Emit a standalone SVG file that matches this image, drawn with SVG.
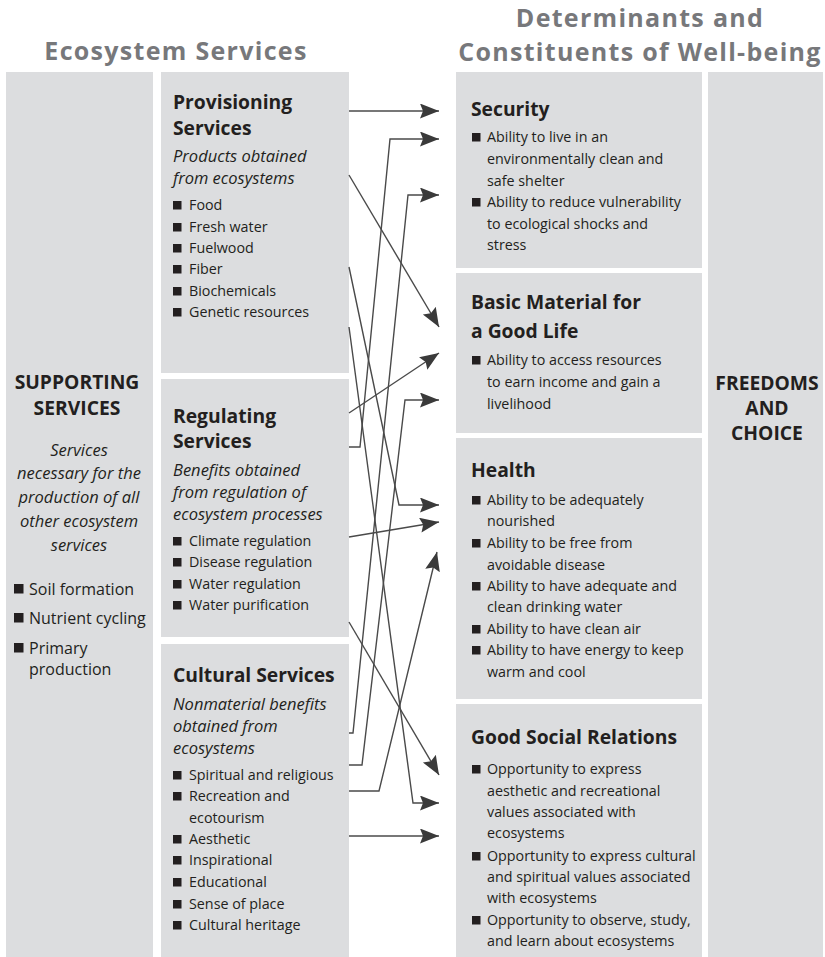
<svg xmlns="http://www.w3.org/2000/svg" width="825" height="957" viewBox="0 0 825 957">
<style>
.bg{fill:#ffffff}
.box{fill:#dcdddf}
text{font-family:"Open Sans","Noto Sans","Liberation Sans",sans-serif;fill:#231f20}
.hd{font-size:25px;font-weight:bold;fill:#77787b;letter-spacing:1.3px}
.t{font-size:19.3px;font-weight:bold}
.i{font-size:16.5px;font-style:italic}
.b{font-size:14.3px}
.s{font-size:16px}
.sq{fill:#231f20}
.c{stroke:#4a4a4a;stroke-width:1.4;fill:none}
.mid{text-anchor:middle}
</style>
<defs>
<marker id="ah" markerUnits="userSpaceOnUse" markerWidth="20" markerHeight="16" refX="19" refY="7.5" orient="auto">
<path d="M0,0 L19,7.5 L0,15 L3,7.5 z" fill="#3a3a3a"/>
</marker>
</defs>
<rect class="bg" x="0" y="0" width="825" height="957"/>
<text class="hd mid" x="176" y="60">Ecosystem Services</text>
<text class="hd mid" x="640" y="27">Determinants and</text>
<text class="hd mid" x="640" y="61">Constituents of Well-being</text>

<g id="supporting">
<rect class="box" x="6" y="72" width="147" height="885"/>
<text class="t mid" x="77" y="389">SUPPORTING</text>
<text class="t mid" x="77" y="415">SERVICES</text>
<text class="i mid" x="79" y="456">Services</text>
<text class="i mid" x="79" y="479">necessary for the</text>
<text class="i mid" x="79" y="503">production of all</text>
<text class="i mid" x="79" y="527">other ecosystem</text>
<text class="i mid" x="79" y="551">services</text>
<rect class="sq" x="14" y="584" width="9.5" height="9.5"/><text class="s" x="29" y="595">Soil formation</text>
<rect class="sq" x="14" y="613" width="9.5" height="9.5"/><text class="s" x="29" y="624">Nutrient cycling</text>
<rect class="sq" x="14" y="643" width="9.5" height="9.5"/><text class="s" x="29" y="654">Primary</text>
<text class="s" x="29" y="675">production</text>
</g>

<g id="provisioning">
<rect class="box" x="161" y="72" width="188" height="301"/>
<text class="t" x="173" y="109">Provisioning</text>
<text class="t" x="173" y="135">Services</text>
<text class="i" x="173" y="162">Products obtained</text>
<text class="i" x="173" y="184">from ecosystems</text>
<rect class="sq" x="173" y="201" width="8.5" height="8.5"/><text class="b" x="189" y="210">Food</text>
<rect class="sq" x="173" y="223" width="8.5" height="8.5"/><text class="b" x="189" y="232">Fresh water</text>
<rect class="sq" x="173" y="244" width="8.5" height="8.5"/><text class="b" x="189" y="253">Fuelwood</text>
<rect class="sq" x="173" y="265" width="8.5" height="8.5"/><text class="b" x="189" y="274">Fiber</text>
<rect class="sq" x="173" y="287" width="8.5" height="8.5"/><text class="b" x="189" y="296">Biochemicals</text>
<rect class="sq" x="173" y="308" width="8.5" height="8.5"/><text class="b" x="189" y="317">Genetic resources</text>
</g>

<g id="regulating">
<rect class="box" x="161" y="379" width="188" height="258"/>
<text class="t" x="173" y="423">Regulating</text>
<text class="t" x="173" y="448">Services</text>
<text class="i" x="173" y="476">Benefits obtained</text>
<text class="i" x="173" y="498">from regulation of</text>
<text class="i" x="173" y="520">ecosystem processes</text>
<rect class="sq" x="173" y="537" width="8.5" height="8.5"/><text class="b" x="189" y="546">Climate regulation</text>
<rect class="sq" x="173" y="558" width="8.5" height="8.5"/><text class="b" x="189" y="567">Disease regulation</text>
<rect class="sq" x="173" y="580" width="8.5" height="8.5"/><text class="b" x="189" y="589">Water regulation</text>
<rect class="sq" x="173" y="601" width="8.5" height="8.5"/><text class="b" x="189" y="610">Water purification</text>
</g>

<g id="cultural">
<rect class="box" x="161" y="644" width="188" height="313"/>
<text class="t" x="173" y="682">Cultural Services</text>
<text class="i" x="173" y="710">Nonmaterial benefits</text>
<text class="i" x="173" y="732">obtained from</text>
<text class="i" x="173" y="754">ecosystems</text>
<rect class="sq" x="173" y="771" width="8.5" height="8.5"/><text class="b" x="189" y="780">Spiritual and religious</text>
<rect class="sq" x="173" y="792" width="8.5" height="8.5"/><text class="b" x="189" y="801">Recreation and</text>
<text class="b" x="189" y="823">ecotourism</text>
<rect class="sq" x="173" y="835" width="8.5" height="8.5"/><text class="b" x="189" y="844">Aesthetic</text>
<rect class="sq" x="173" y="856" width="8.5" height="8.5"/><text class="b" x="189" y="865">Inspirational</text>
<rect class="sq" x="173" y="878" width="8.5" height="8.5"/><text class="b" x="189" y="887">Educational</text>
<rect class="sq" x="173" y="900" width="8.5" height="8.5"/><text class="b" x="189" y="909">Sense of place</text>
<rect class="sq" x="173" y="921" width="8.5" height="8.5"/><text class="b" x="189" y="930">Cultural heritage</text>
</g>

<g id="security">
<rect class="box" x="456" y="72" width="246" height="196"/>
<text class="t" x="471" y="116">Security</text>
<rect class="sq" x="472" y="133" width="8.5" height="8.5"/><text class="b" x="487" y="142">Ability to live in an</text>
<text class="b" x="487" y="164">environmentally clean and</text>
<text class="b" x="487" y="186">safe shelter</text>
<rect class="sq" x="472" y="198" width="8.5" height="8.5"/><text class="b" x="487" y="207">Ability to reduce vulnerability</text>
<text class="b" x="487" y="229">to ecological shocks and</text>
<text class="b" x="487" y="250">stress</text>
</g>

<g id="basic-material">
<rect class="box" x="456" y="273" width="246" height="160"/>
<text class="t" x="471" y="309">Basic Material for</text>
<text class="t" x="471" y="338">a Good Life</text>
<rect class="sq" x="472" y="356" width="8.5" height="8.5"/><text class="b" x="487" y="365">Ability to access resources</text>
<text class="b" x="487" y="387">to earn income and gain a</text>
<text class="b" x="487" y="409">livelihood</text>
</g>

<g id="health">
<rect class="box" x="456" y="438" width="246" height="261"/>
<text class="t" x="471" y="477">Health</text>
<rect class="sq" x="472" y="496" width="8.5" height="8.5"/><text class="b" x="487" y="505">Ability to be adequately</text>
<text class="b" x="487" y="526">nourished</text>
<rect class="sq" x="472" y="539" width="8.5" height="8.5"/><text class="b" x="487" y="548">Ability to be free from</text>
<text class="b" x="487" y="570">avoidable disease</text>
<rect class="sq" x="472" y="582" width="8.5" height="8.5"/><text class="b" x="487" y="591">Ability to have adequate and</text>
<text class="b" x="487" y="612">clean drinking water</text>
<rect class="sq" x="472" y="625" width="8.5" height="8.5"/><text class="b" x="487" y="634">Ability to have clean air</text>
<rect class="sq" x="472" y="646" width="8.5" height="8.5"/><text class="b" x="487" y="655">Ability to have energy to keep</text>
<text class="b" x="487" y="677">warm and cool</text>
</g>

<g id="good-social-relations">
<rect class="box" x="456" y="704" width="246" height="253"/>
<text class="t" x="471" y="744">Good Social Relations</text>
<rect class="sq" x="472" y="765" width="8.5" height="8.5"/><text class="b" x="487" y="774">Opportunity to express</text>
<text class="b" x="487" y="796">aesthetic and recreational</text>
<text class="b" x="487" y="817">values associated with</text>
<text class="b" x="487" y="838">ecosystems</text>
<rect class="sq" x="472" y="852" width="8.5" height="8.5"/><text class="b" x="487" y="861">Opportunity to express cultural</text>
<text class="b" x="487" y="882">and spiritual values associated</text>
<text class="b" x="487" y="903">with ecosystems</text>
<rect class="sq" x="472" y="916" width="8.5" height="8.5"/><text class="b" x="487" y="925">Opportunity to observe, study,</text>
<text class="b" x="487" y="946">and learn about ecosystems</text>
</g>

<g id="freedoms">
<rect class="box" x="708" y="72" width="115" height="885"/>
<text class="t mid" x="767" y="390">FREEDOMS</text>
<text class="t mid" x="767" y="415">AND</text>
<text class="t mid" x="767" y="440">CHOICE</text>
</g>

<g id="connectors">
<path class="c" marker-end="url(#ah)" d="M349,111 H439"/>
<path class="c" marker-end="url(#ah)" d="M349,447 H360 L390,139 H439"/>
<path class="c" marker-end="url(#ah)" d="M349,733 H353 L408,195 H439"/>
<path class="c" marker-end="url(#ah)" d="M349,175 L439,327"/>
<path class="c" marker-end="url(#ah)" d="M349,413 L439,353"/>
<path class="c" marker-end="url(#ah)" d="M349,765 H362 L405,400 H439"/>
<path class="c" marker-end="url(#ah)" d="M349,267 L399,505 H439"/>
<path class="c" marker-end="url(#ah)" d="M349,537 L439,522"/>
<path class="c" marker-end="url(#ah)" d="M349,791 H379 L437,552"/>
<path class="c" marker-end="url(#ah)" d="M349,622 L439,775"/>
<path class="c" marker-end="url(#ah)" d="M349,327 L413,803 H439"/>
<path class="c" marker-end="url(#ah)" d="M349,836 H439"/>
</g>
</svg>
